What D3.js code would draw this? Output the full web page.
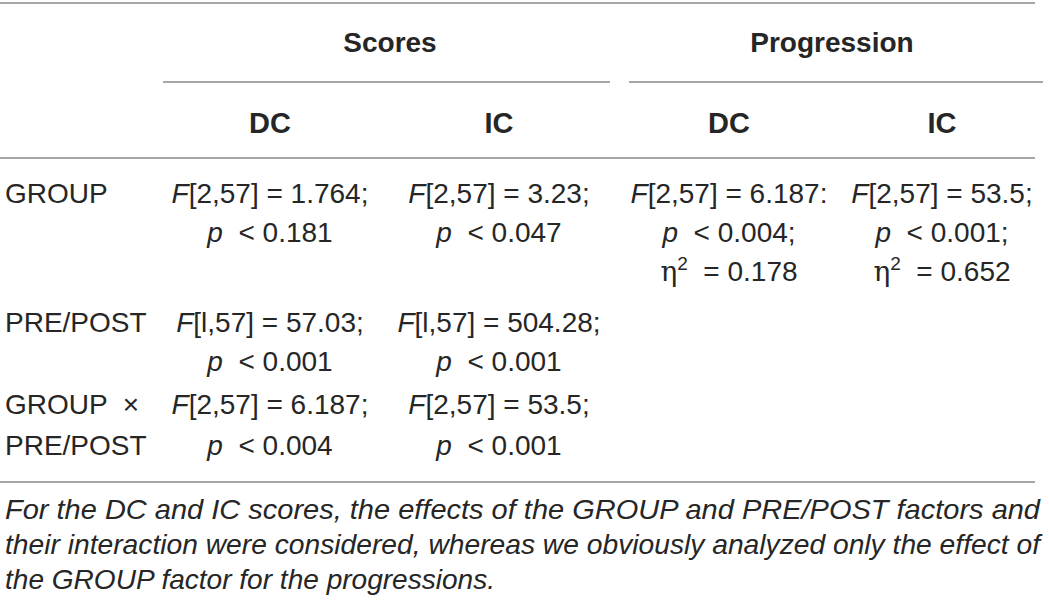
<!DOCTYPE html>
<html>
<head>
<meta charset="utf-8">
<script src="https://cdn.jsdelivr.net/npm/d3@7"></script>
<style>
  html, body { margin: 0; padding: 0; background: #fff; }
  svg { display: block; }
  text { font-family: "Liberation Sans", Arial, sans-serif; fill: #262626; white-space: pre; }
</style>
</head>
<body>
<div id="table"></div>
<script>
/*jslint browser: true*/

// table content
var groupHeaders = ['Scores', 'Progression'];
var columnHeaders = ['DC', 'IC', 'DC', 'IC'];
var rowLabels = [['GROUP'], ['PRE/POST'], ['GROUP  \u00d7', 'PRE/POST']];
var scoresDC = [
    ['F[2,57] = 1.764;', 'p < 0.181'],
    ['F[l,57] = 57.03;', 'p < 0.001'],
    ['F[2,57] = 6.187;', 'p < 0.004']
];
var scoresIC = [
    ['F[2,57] = 3.23;', 'p < 0.047'],
    ['F[l,57] = 504.28;', 'p < 0.001'],
    ['F[2,57] = 53.5;', 'p < 0.001']
];
var progressionDC = [
    ['F[2,57] = 6.187:', 'p < 0.004;', '\u03b7^2 = 0.178'],
    [],
    []
];
var progressionIC = [
    ['F[2,57] = 53.5;', 'p < 0.001;', '\u03b7^2 = 0.652'],
    [],
    []
];
var footnote = [
    'For the DC and IC scores, the effects of the GROUP and PRE/POST factors and',
    'their interaction were considered, whereas we obviously analyzed only the effect of',
    'the GROUP factor for the progressions.'
];

(function (d3) {
    'use strict';

    var width = 1049, height = 605,
        fontSize = 28,
        lineH = 39,
        ruleColor = '#8a8a8a';

    var svg = d3.select('#table').append('svg')
        .attr('width', width)
        .attr('height', height);

    // column centres
    var colX = d3.scaleOrdinal()
        .domain([0, 1, 2, 3])
        .range([270, 499, 729, 942]);
    var groupSpan = [[163, 610], [629, 1043]];

    // baseline of first line of each body row
    var rowY = d3.scaleOrdinal()
        .domain([0, 1, 2])
        .range([203, 332, 414]);

    function rule(y, x0, x1) {
        svg.append('line')
            .attr('x1', x0).attr('x2', x1)
            .attr('y1', y).attr('y2', y)
            .attr('stroke', ruleColor)
            .attr('stroke-width', 1.6);
    }

    // one line of cell text: italic F / p, serif eta with superscript
    function writeLine(sel, str) {
        var m;
        if ((m = str.match(/^([Fp])(.*)$/))) {
            sel.append('tspan').style('font-style', 'italic').text(m[1]);
            sel.append('tspan').text(m[2].replace(' < ', '  < '));
        } else if ((m = str.match(/^\u03b7\^2(.*)$/))) {
            sel.append('tspan')
                .style('font-family', '"DejaVu Serif", "Liberation Serif", serif')
                .text('\u03b7');
            sel.append('tspan')
                .attr('dy', -11)
                .style('font-size', (fontSize * 0.68) + 'px')
                .text('2');
            sel.append('tspan').attr('dy', 11).text(m[1].replace(' = ', '  = '));
        } else {
            sel.text(str);
        }
    }

    rule(3, 0, 1035);

    // group headers with their rules
    svg.selectAll('text.group')
        .data(groupHeaders).enter()
      .append('text')
        .attr('class', 'group')
        .attr('x', function (d, i) { return i === 0 ? 390 : 832; })
        .attr('y', 52)
        .attr('text-anchor', 'middle')
        .style('font-size', fontSize + 'px')
        .style('font-weight', 'bold')
        .text(function (d) { return d; });

    groupSpan.forEach(function (s) { rule(82, s[0], s[1]); });

    svg.selectAll('text.colhead')
        .data(columnHeaders).enter()
      .append('text')
        .attr('class', 'colhead')
        .attr('x', function (d, i) { return colX(i); })
        .attr('y', 133)
        .attr('text-anchor', 'middle')
        .style('font-size', (fontSize + 1) + 'px')
        .style('font-weight', 'bold')
        .text(function (d) { return d; });

    rule(158, 0, 1035);

    // row labels
    rowLabels.forEach(function (lines, r) {
        lines.forEach(function (line, k) {
            svg.append('text')
                .attr('x', 5)
                .attr('y', rowY(r) + k * (lineH + 2))
                .style('font-size', fontSize + 'px')
                .text(line);
        });
    });

    // body cells
    [scoresDC, scoresIC, progressionDC, progressionIC].forEach(function (col, c) {
        col.forEach(function (lines, r) {
            lines.forEach(function (line, k) {
                var t = svg.append('text')
                    .attr('x', colX(c))
                    .attr('y', rowY(r) + k * (r === 2 ? lineH + 2 : lineH))
                    .attr('text-anchor', 'middle')
                    .style('font-size', fontSize + 'px');
                writeLine(t, line);
            });
        });
    });

    rule(482, 0, 1035);

    // footnote
    var noteWidths = [1035, 1035, 490];
    svg.selectAll('text.note')
        .data(footnote).enter()
      .append('text')
        .attr('class', 'note')
        .attr('x', 5)
        .attr('y', function (d, i) { return 519 + i * 35; })
        .attr('textLength', function (d, i) { return noteWidths[i]; })
        .attr('lengthAdjust', 'spacingAndGlyphs')
        .style('font-size', '28px')
        .style('font-style', 'italic')
        .text(function (d) { return d; });

}(window.d3));
</script>
</body>
</html>
